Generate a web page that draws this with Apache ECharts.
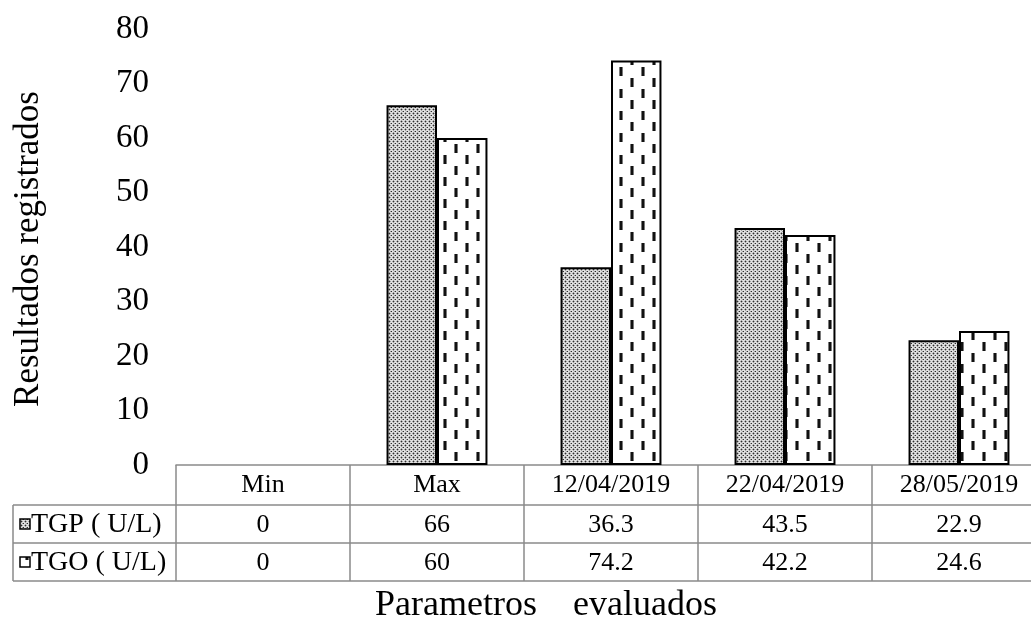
<!DOCTYPE html>
<html>
<head>
<meta charset="utf-8">
<script src="https://cdn.jsdelivr.net/npm/echarts@6/dist/echarts.min.js"></script>
<style>
  html, body { margin: 0; padding: 0; background: #fff; }
  #chart { width: 1031px; height: 620px; }
</style>
</head>
<body>
<div id="chart"></div>
<script>
// Liver enzyme results per evaluated parameter
const categories = ['Min', 'Max', '12/04/2019', '22/04/2019', '28/05/2019'];
const seriesNames = ['TGP ( U/L)', 'TGO ( U/L)'];
const tgpValues = [0, 66, 36.3, 43.5, 22.9];
const tgoValues = [0, 60, 74.2, 42.2, 24.6];
const yTicks = { min: 0, max: 80, interval: 10 };

const FONT = '"Liberation Serif", "Times New Roman", serif';
const GRID_LINE = '#8a8a8a';

// Fill patterns for the bars
function dottedTile() {
  const c = document.createElement('canvas');
  c.width = 4; c.height = 4;
  const g = c.getContext('2d');
  g.fillStyle = '#dedede';
  g.fillRect(0, 0, 4, 4);
  g.fillStyle = '#a0a0a0';
  g.fillRect(0, 1, 3, 1);
  g.fillRect(1, 0, 1, 3);
  g.fillRect(2, 3, 3, 1);
  g.fillStyle = '#2e2e2e';
  g.fillRect(1, 1, 1, 1);
  g.fillRect(3, 3, 1, 1);
  return c;
}
function dashTile() {
  const c = document.createElement('canvas');
  c.width = 22; c.height = 22;
  const g = c.getContext('2d');
  g.fillStyle = '#ffffff';
  g.fillRect(0, 0, 22, 22);
  g.fillStyle = '#7a7a7a';
  g.fillRect(3, 1, 4, 9);
  g.fillRect(14, 12, 4, 9);
  g.fillStyle = '#111111';
  g.fillRect(4, 1, 2, 9);
  g.fillRect(15, 12, 2, 9);
  return c;
}
const tgpFill = { image: dottedTile(), repeat: 'repeat' };
const tgoFill = { image: dashTile(), repeat: 'repeat' };

function barData(values) {
  return values.map(v => ({
    value: v,
    itemStyle: { borderWidth: v === 0 ? 0 : 2 }
  }));
}

const chart = echarts.init(document.getElementById('chart'), null, { renderer: 'canvas' });

chart.setOption({
  animation: false,
  backgroundColor: '#ffffff',
  grid: { left: 176, top: 29, width: 870, height: 436, outerBoundsMode: 'none' },
  xAxis: {
    type: 'category',
    data: categories,
    axisLine: { show: true, lineStyle: { color: GRID_LINE, width: 1.5 } },
    axisTick: { show: true, length: 116, lineStyle: { color: GRID_LINE, width: 1.5 } },
    axisLabel: {
      show: true, margin: 7, color: '#000',
      fontFamily: FONT, fontSize: 26
    },
    splitLine: { show: false }
  },
  yAxis: {
    type: 'value',
    min: yTicks.min, max: yTicks.max, interval: yTicks.interval,
    axisLine: { show: false },
    axisTick: { show: false },
    splitLine: { show: false },
    axisLabel: { color: '#000', fontFamily: FONT, fontSize: 33, margin: 27 }
  },
  series: [
    {
      name: seriesNames[0], type: 'bar', data: barData(tgpValues),
      barGap: '0%', barCategoryGap: '42%',
      itemStyle: { color: tgpFill, borderColor: '#000', borderWidth: 2 }
    },
    {
      name: seriesNames[1], type: 'bar', data: barData(tgoValues),
      barGap: '0%', barCategoryGap: '42%',
      itemStyle: { color: tgoFill, borderColor: '#000', borderWidth: 2 }
    }
  ]
});

// Data table under the axis, aligned to the category scale
function drawTable() {
  const x0 = chart.convertToPixel({ xAxisIndex: 0 }, 0);
  const x1 = chart.convertToPixel({ xAxisIndex: 0 }, 1);
  const step = x1 - x0;
  const right = x0 + step * (categories.length - 0.5);
  const tableLeft = 13;
  const rowTops = [505, 543];
  const bottom = 581;
  const els = [];
  const lineStyle = { stroke: GRID_LINE, lineWidth: 1.5 };

  rowTops.concat([bottom]).forEach(y => {
    els.push({ type: 'line', shape: { x1: tableLeft, y1: y, x2: right, y2: y }, style: lineStyle, silent: true });
  });
  els.push({ type: 'line', shape: { x1: tableLeft, y1: rowTops[0], x2: tableLeft, y2: bottom }, style: lineStyle, silent: true });

  const rows = [tgpValues, tgoValues];
  const fills = [tgpFill, tgoFill];
  rows.forEach((vals, r) => {
    const cy = (rowTops[r] + (rowTops[r + 1] || bottom)) / 2;
    // legend key
    els.push({
      type: 'rect', shape: { x: 20, y: cy - 5, width: 10, height: 10 },
      style: { fill: fills[r], stroke: '#000', lineWidth: 1.5 }, silent: true
    });
    els.push({
      type: 'text', x: 31, y: cy + 1,
      style: { text: seriesNames[r], font: '28px ' + FONT, fill: '#000', align: 'left', verticalAlign: 'middle' },
      silent: true
    });
    vals.forEach((v, i) => {
      els.push({
        type: 'text', x: chart.convertToPixel({ xAxisIndex: 0 }, i), y: cy + 1,
        style: { text: String(v), font: '26px ' + FONT, fill: '#000', align: 'center', verticalAlign: 'middle' },
        silent: true
      });
    });
  });

  // axis titles
  els.push({
    type: 'text', x: 546, y: 606,
    style: { text: 'Parametros    evaluados', font: '36px ' + FONT, fill: '#000', align: 'center', verticalAlign: 'middle' },
    silent: true
  });
  els.push({
    type: 'text', x: 29, y: 249, rotation: Math.PI / 2,
    style: { text: 'Resultados registrados', font: '35px ' + FONT, fill: '#000', align: 'center', verticalAlign: 'middle' },
    silent: true
  });

  chart.setOption({ graphic: els });
}
drawTable();
</script>
</body>
</html>
